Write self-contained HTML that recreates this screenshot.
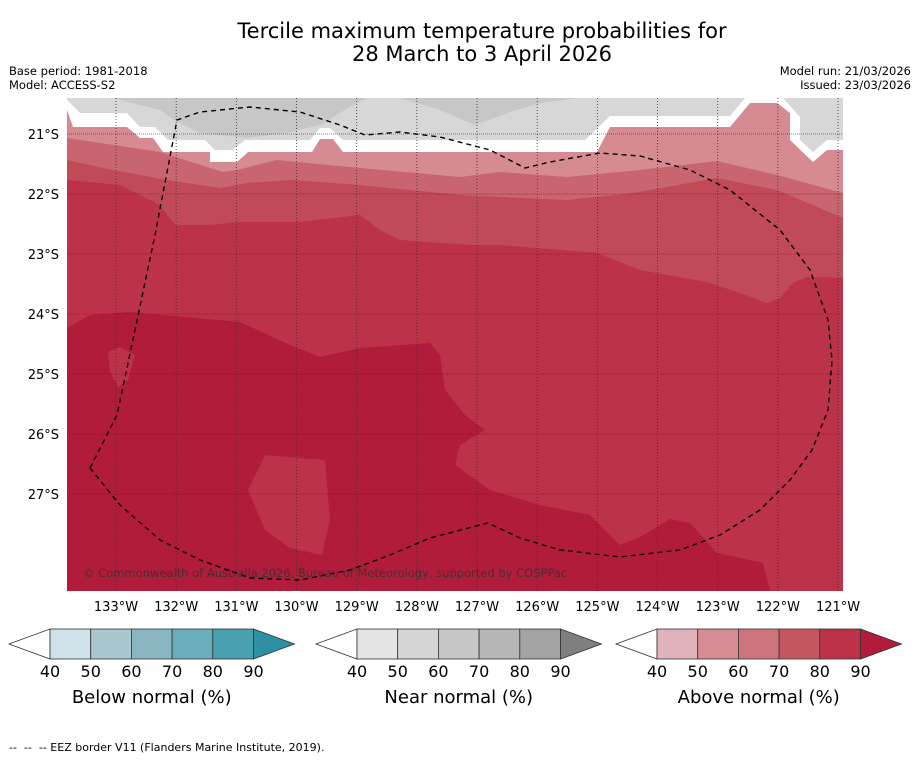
<!DOCTYPE html>
<html><head><meta charset="utf-8"><style>
html,body{margin:0;padding:0;background:#fff;}
body{width:919px;height:758px;overflow:hidden;font-family:"DejaVu Sans","Liberation Sans",sans-serif;}
</style></head><body>
<svg id="fig" width="919" height="758" viewBox="0 0 919 758" xmlns="http://www.w3.org/2000/svg" font-family="DejaVu Sans, Liberation Sans, sans-serif">
<rect width="919" height="758" fill="#fff"/>
<text x="482" y="38" font-size="21" text-anchor="middle" fill="#000">Tercile maximum temperature probabilities for</text>
<text x="482" y="61" font-size="21" text-anchor="middle" fill="#000">28 March to 3 April 2026</text>
<text x="9" y="75" font-size="11.5">Base period: 1981-2018</text>
<text x="9" y="89" font-size="11.5">Model: ACCESS-S2</text>
<text x="911" y="75" font-size="11.5" text-anchor="end">Model run: 21/03/2026</text>
<text x="911" y="89" font-size="11.5" text-anchor="end">Issued: 23/03/2026</text>
<defs><clipPath id="mc"><rect x="67" y="98" width="776" height="493"/></clipPath></defs>
<g id="map" clip-path="url(#mc)">
<rect x="67" y="98" width="776" height="493" fill="#b01c3a"/>
<polygon fill="#bb3249" points="67,98 67,328 90,315 130,312 240,322 290,345 320,357 360,348 430,343 440,355 445,390 465,415 485,430 460,445 455,465 490,490 540,505 590,515 620,545 640,537 670,519 690,523 717,553 740,558 763,563 770,591 843,591 843,98"/>
<polygon fill="#bb3249" points="108,352 120,347 135,355 128,380 118,387 110,372"/>
<polygon fill="#bb3249" points="265,455 325,460 330,520 322,555 290,548 265,530 248,490"/>
<polygon fill="#c04a57" points="67,98 67,180 120,185 160,205 175,225 210,225 240,222 300,222 360,215 380,230 400,240 470,245 500,245 597,253 640,270 707,282 740,293 767,303 780,298 793,283 807,277 843,278 843,98"/>
<polygon fill="#c96570" points="67,98 67,160 113,170 167,180 220,188 247,183 293,180 360,185 460,195 500,197 567,200 633,193 717,178 777,190 843,218 843,98"/>
<polygon fill="#d68a92" points="67,98 67,138 160,152 223,172 237,170 277,160 360,168 460,177 500,172 567,177 640,170 717,161 777,175 843,193 843,98"/>
<polygon fill="#fff" points="67,98 67,110 73,127 127,127 140,138 153,138 163,152 210,152 210,162 237,162 248,152 312,152 320,139 333,139 343,152 597,152 610,127 730,127 750,103 777,103 790,113 790,140 813,162 827,150 843,150 843,98"/>
<polygon fill="#d7d7d7" points="67,98 67,100 80,113 127,113 140,127 155,127 168,140 205,140 215,150 232,150 245,140 310,140 320,128 330,128 343,140 585,140 610,116 730,116 745,98"/>
<polygon fill="#d7d7d7" points="783,98 800,117 800,140 813,152 827,140 843,140 843,98"/>
<polygon fill="#c7c7c7" points="113,98 160,110 177,122 200,133 247,138 287,133 320,125 353,105 367,98"/>
<polygon fill="#c7c7c7" points="400,98 440,110 475,125 510,112 540,103 577,98"/>
<g id="grid"></g>
<polyline fill="none" stroke="#000" stroke-width="1.4" stroke-dasharray="5,4" points="90,468 117,415 135,330 155,235 177,120 200,112 250,107 300,112 340,125 365,135 400,132 440,137 490,150 525,168 550,162 600,153 640,156 690,170 730,190 780,230 810,270 828,320 832,360 828,410 812,450 790,480 760,510 720,535 680,550 620,557 560,550 520,538 488,523 430,538 390,555 350,570 300,580 250,578 200,560 160,540 120,505 90,468"/>
<text x="83" y="577" font-size="11.5" fill="#333" fill-opacity="0.85">© Commonwealth of Australia 2026, Bureau of Meteorology, supported by COSPPac</text>
</g>
<g id="axes"></g>
<g id="cbars"></g>
<text x="9" y="751" font-size="11" xml:space="preserve" style="white-space:pre">--  --  -- EEZ border V11 (Flanders Marine Institute, 2019).</text>
</svg>
<script>
const lonTicks=[133,132,131,130,129,128,127,126,125,124,123,122,121];
const latTicks=[21,22,23,24,25,26,27];
const levels=[40,50,60,70,80,90];
const belowColors=["#cce2e8","#a8c7cc","#8ab6c2","#6aaebd","#48a0b1","#2c8fa3"];
const nearColors=["#e5e5e5","#d6d6d6","#c6c6c6","#b6b6b6","#a3a3a3","#7f7f7f"];
const aboveColors=["#e0b3ba","#d78b93","#ce747c","#c55660","#bb3249","#b01c3a"];
const cbarTitles=["Below normal (%)","Near normal (%)","Above normal (%)"];
const NS="http://www.w3.org/2000/svg";
function xLon(l){return 116+(133-l)*60.17;}
function yLat(l){return 134+(l-21)*60;}
function mk(t,a,p){const e=document.createElementNS(NS,t);for(const k in a)e.setAttribute(k,a[k]);p.appendChild(e);return e;}
const grid=document.getElementById('grid'),axes=document.getElementById('axes');
lonTicks.forEach(l=>{
 const x=xLon(l);
 const g=mk('line',{x1:x,x2:x,y1:98,y2:591,stroke:'#333','stroke-width':0.8,'stroke-dasharray':'1,2'},grid);
 
 
 const t=mk('text',{x:x,y:611,'font-size':13,'text-anchor':'middle'},axes);
 t.textContent=l+'°W';
 
 
});
latTicks.forEach(l=>{
 const y=yLat(l);
 const g=mk('line',{x1:67,x2:843,y1:y,y2:y,stroke:'#333','stroke-width':0.8,'stroke-dasharray':'1,1','stroke-opacity':0.8},grid);
 
 
 const t=mk('text',{x:59,y:y+5,'font-size':13,'text-anchor':'end'},axes);
 t.textContent=l+'°S';
 
 
});
const cb=document.getElementById('cbars');
const starts=[50,357,657];
[belowColors,nearColors,aboveColors].forEach((cols,i)=>{
 const x0=starts[i],w=40.7,y0=629,h=30,n=levels.length-1;
 const lt=mk('polygon',{points:`${x0},${y0} ${x0-41},${y0+h/2} ${x0},${y0+h}`,fill:'#fff',stroke:'#333','stroke-width':0.8},cb);
 
 
 for(let k=0;k<n;k++){
  const r=mk('rect',{x:x0+k*w,y:y0,width:w,height:h,fill:cols[k],stroke:'#333','stroke-width':0.8},cb);
  
  
 }
 const xe=x0+n*w;
 const rt=mk('polygon',{points:`${xe},${y0} ${xe+41},${y0+h/2} ${xe},${y0+h}`,fill:cols[n],stroke:'#333','stroke-width':0.8},cb);
 
 
 levels.forEach((v,k)=>{
  const t=mk('text',{x:x0+k*w,y:677,'font-size':16,'text-anchor':'middle'},cb);
  t.textContent=v;
  
  
 });
 const tt=mk('text',{x:x0+n*w/2,y:703,'font-size':18,'text-anchor':'middle'},cb);
 tt.textContent=cbarTitles[i];
 
 
});
</script>
</body></html>
